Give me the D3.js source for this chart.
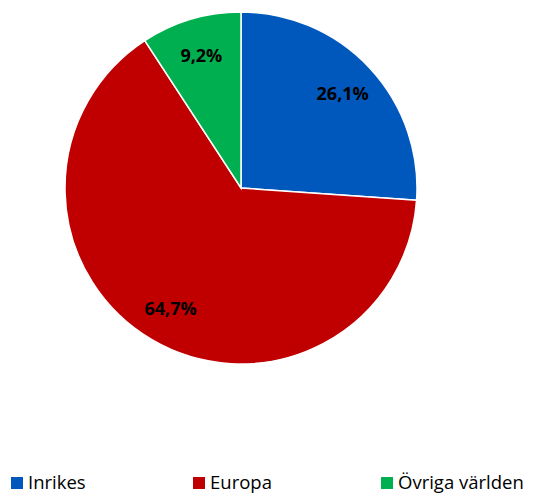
<!DOCTYPE html>
<html><head><meta charset="utf-8">
<script src="https://cdn.jsdelivr.net/npm/d3@7"></script>
<style>body{margin:0;background:#fff;overflow:hidden}</style>
</head><body>
<script>
const categories = ["Inrikes", "Europa", "Övriga världen"];
const values = [26.1, 64.7, 9.2];
const colors = ["#0058BC", "#C00000", "#00B050"];

const W = 535, H = 495;
const svg = d3.select("body").append("svg").attr("width", W).attr("height", H).style("display", "block");
const cx = 241, cy = 188, R = 176;
const pie = d3.pie().sort(null).value(d => d.v);
const data = pie(categories.map((c, i) => ({c, v: values[i], col: colors[i]})));
const arc = d3.arc().innerRadius(0).outerRadius(R);
const labelArc = d3.arc().innerRadius(R * 0.79).outerRadius(R * 0.79);
const g = svg.append("g").attr("transform", `translate(${cx},${cy})`);
g.selectAll("path").data(data).join("path")
  .attr("d", arc).attr("fill", d => d.data.col)
  .attr("stroke", "#fff").attr("stroke-width", 1.5);
g.selectAll("text").data(data).join("text")
  .attr("transform", d => `translate(${labelArc.centroid(d)})`)
  .attr("text-anchor", "middle").attr("dominant-baseline", "central")
  .attr("font-family", "Open Sans, sans-serif").attr("font-weight", "bold")
  .attr("font-size", 18).attr("fill", "#000")
  .text(d => d.data.v.toFixed(1).replace(".", ",") + "%");

const legendX = [11, 193, 381];
const lg = svg.selectAll("g.leg").data(categories).join("g").attr("class", "leg")
  .attr("transform", (d, i) => `translate(${legendX[i]},477)`);
lg.append("rect").attr("width", 12).attr("height", 12).attr("fill", (d, i) => colors[i]);
lg.append("text").attr("x", 17).attr("y", 12)
  .attr("font-family", "Open Sans, sans-serif").attr("font-size", 18.5).attr("fill", "#000")
  .text(d => d);
</script>
</body></html>
